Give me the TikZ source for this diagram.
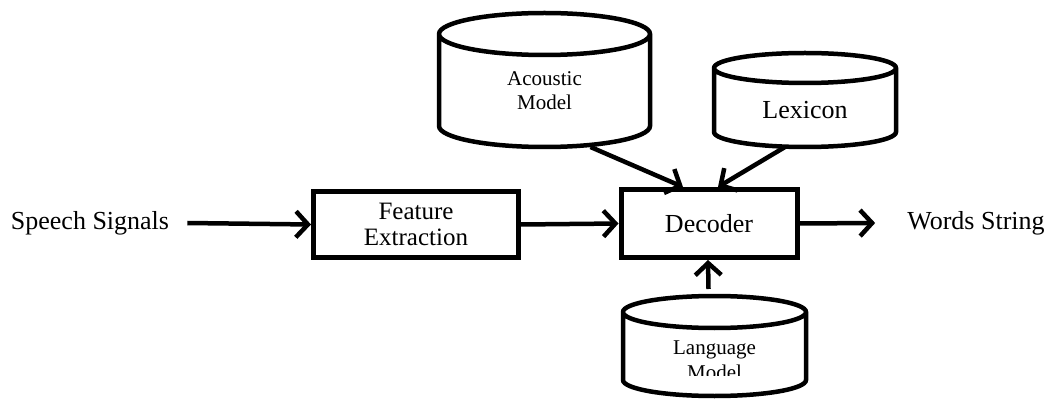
\documentclass[tikz,border=0pt]{standalone}
\usepackage{fontspec}
\setmainfont{Liberation Serif}
\usetikzlibrary{arrows.meta}
\usetikzlibrary{calc}
\tikzstyle{block}=[draw, line width=5pt, inner sep=0, font=\fontsize{25}{26}\selectfont, align=center]
\tikzstyle{store}=[inner sep=0, outer sep=0]
\tikzstyle{storetext}=[inner sep=0, font=\fontsize{21}{24}\selectfont, align=center]
\tikzstyle{flow}=[line width=4.5pt, -{Straight Barb[length=12pt, width=26pt]}]
\tikzstyle{plain}=[inner sep=0, font=\fontsize{26}{26}\selectfont]
% drum outline round a store node: name, half height of the ellipse
\newcommand{\drawdrum}[2]{%
    \draw[line width=4.5pt] let \p1=(#1.north west), \p2=(#1.south east), \n1={(\x2-\x1)/2} in
        (\x1, \y1-#2pt) -- (\x1, \y2+#2pt)
        arc[start angle=180, end angle=360, x radius=\n1, y radius=#2pt]
        -- (\x2, \y1-#2pt)
        arc[start angle=0, end angle=180, x radius=\n1, y radius=#2pt] -- cycle
        (\x1, \y1-#2pt) arc[start angle=180, end angle=360, x radius=\n1, y radius=#2pt];}

\begin{document}
\begin{tikzpicture}[x=1pt, y=1pt]
        \useasboundingbox (0, 0) rectangle (1051, 399);
        \node[plain]                                       (speech) at (90, 176) {Speech Signals};
        \node[block, minimum width=205, minimum height=66] (feat) at (416, 174.5) {Feature\\Extraction};
        \node[block, minimum width=176, minimum height=68, font=\fontsize{26}{26}\selectfont] (dec) at (709, 175.5) {Decoder};
        \node[plain]                                       (words) at (976, 176) {Words String};
        \node[store, minimum width=211, minimum height=134] (ac) at (544.5, 319) {};
        \node[store, minimum width=182, minimum height=94]  (lex) at (805, 299) {};
        \node[store, minimum width=183, minimum height=100] (lang) at (714.5, 53) {};
        \drawdrum{ac}{21}
        \drawdrum{lex}{15}
        \drawdrum{lang}{16}
        \node[storetext]                                   (actext) at ([yshift=-11pt]ac.center) {Acoustic\\Model};
        \node[plain]                                       (lextext) at ([yshift=-10pt]lex.center) {Lexicon};
        \begin{scope}
            \clip (lang.west) ++(0, -29) rectangle (lang.east |- lang.north);
            \node[storetext, font=\fontsize{21}{25}\selectfont] (langtext) at ([yshift=-14pt]lang.center) {Language\\Model};
        \end{scope}
        \draw[flow] ([xshift=18pt]speech.east) -- (feat.west);
        \draw[flow] (feat.east) -- (dec.west);
        \draw[flow] (dec.east) -- ([xshift=-32pt]words.west);
        \draw[flow] ([xshift=46pt]ac.south) -- ([xshift=-26pt]dec.north);
        \draw[flow] ([xshift=-20pt]lex.south) -- ([xshift=9pt]dec.north);
        \draw[flow] ([shift={(-6pt,7pt)}]lang.north) -- ([xshift=-1pt]dec.south);
    \end{tikzpicture}
\end{document}
